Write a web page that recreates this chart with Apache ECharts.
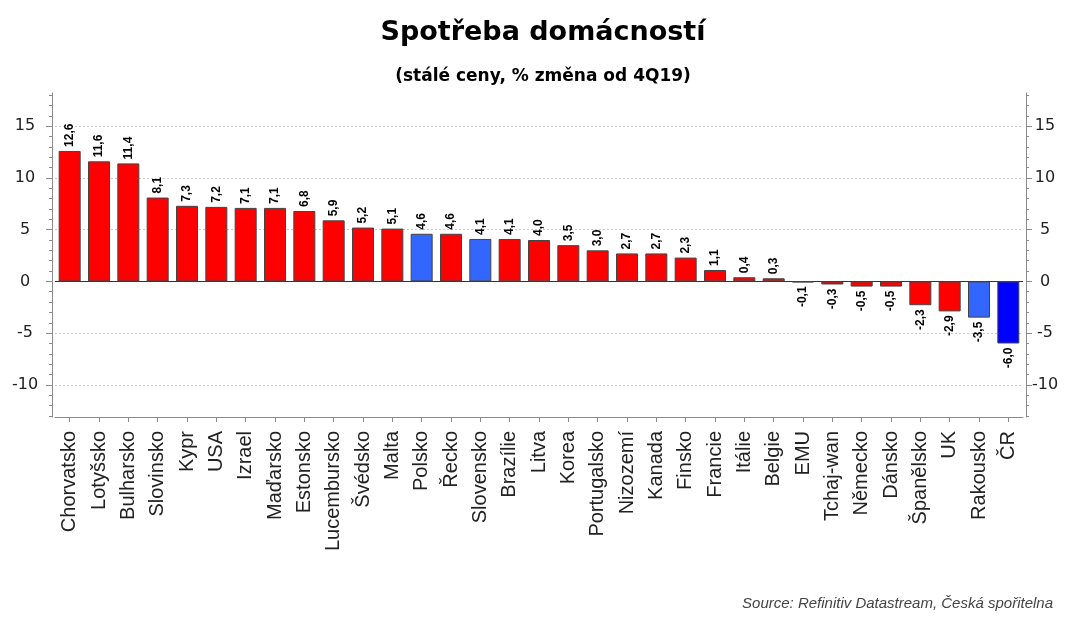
<!DOCTYPE html>
<html>
<head>
<meta charset="utf-8">
<script src="https://cdn.jsdelivr.net/npm/echarts@6/dist/echarts.min.js"></script>
<style>
html,body{margin:0;padding:0;background:#fff;}
#chart{width:1086px;height:618px;}
</style>
</head>
<body>
<div id="chart"></div>
<script>
const categories = ['Chorvatsko','Lotyšsko','Bulharsko','Slovinsko','Kypr','USA','Izrael','Maďarsko','Estonsko','Lucembursko','Švédsko','Malta','Polsko','Řecko','Slovensko','Brazílie','Litva','Korea','Portugalsko','Nizozemí','Kanada','Finsko','Francie','Itálie','Belgie','EMU','Tchaj-wan','Německo','Dánsko','Španělsko','UK','Rakousko','ČR'];
const values = [12.6,11.6,11.4,8.1,7.3,7.2,7.1,7.1,6.8,5.9,5.2,5.1,4.6,4.6,4.1,4.1,4.0,3.5,3.0,2.7,2.7,2.3,1.1,0.4,0.3,-0.1,-0.3,-0.5,-0.5,-2.3,-2.9,-3.5,-6.0];
const lightBlueCountries = ['Polsko','Slovensko','Rakousko'];
const darkBlueCountries = ['ČR'];
const yTickLabels = [-10,-5,0,5,10,15];
const yMin = -13.1, yMax = 18.2;
const titleText = 'Spotřeba domácností';
const subtitleText = '(stálé ceny, % změna od 4Q19)';
const sourceText = 'Source: Refinitiv Datastream, Česká spořitelna';

const minorTicks = [];
for (let v = Math.ceil(yMin); v <= Math.floor(yMax); v++) minorTicks.push(v);

const axisGray = '#8a8a8a';
const hFont = 'DejaVu Sans';
const vFont = 'Liberation Sans';

function colorFor(c){
  if (darkBlueCountries.includes(c)) return '#0000FF';
  if (lightBlueCountries.includes(c)) return '#3366FF';
  return '#FF0000';
}

const barData = categories.map((c,i)=>{
  const v = values[i];
  const pos = v >= 0;
  return {
    value: v,
    itemStyle: {color: colorFor(c)},
    label: {
      position: pos ? 'top' : 'bottom',
      align: pos ? 'left' : 'right',
      verticalAlign: 'middle'
    }
  };
});

function mainY(pos){
  return {
    type:'value', position:pos, min:yMin, max:yMax, offset:3,
    axisLine:{show:true, lineStyle:{color:axisGray, width:1}},
    axisTick:{show:true, customValues:yTickLabels, length:6, lineStyle:{color:axisGray}},
    axisLabel:{show:true, customValues:yTickLabels, align:'center', margin: pos==='left'?27:19,
      fontFamily:hFont, fontSize:16, color:'#222'},
    splitLine:{show:false}
  };
}
function minorY(pos){
  return {
    type:'value', position:pos, min:yMin, max:yMax, offset:3,
    axisLine:{show:false},
    axisTick:{show:true, customValues:minorTicks, length:3, lineStyle:{color:axisGray}},
    axisLabel:{show:false},
    splitLine:{show:false}
  };
}

const chart = echarts.init(document.getElementById('chart'), null, {renderer:'canvas'});
chart.setOption({
  animation:false,
  backgroundColor:'#fff',
  title:[
    {text:titleText, left:'center', top:14, textStyle:{fontFamily:hFont, fontSize:27, fontWeight:'bold', color:'#000'}},
    {text:subtitleText, left:'center', top:63, textStyle:{fontFamily:hFont, fontSize:17, fontWeight:'bold', color:'#000'}},
    {text:sourceText, right:28, top:591, textStyle:{fontFamily:vFont, fontSize:15, fontStyle:'italic', fontWeight:'normal', color:'#444'}}
  ],
  grid:{left:55, right:63, top:93, bottom:201, containLabel:false},
  xAxis:{
    type:'category', data:categories, position:'bottom',
    axisLine:{show:true, onZero:false, lineStyle:{color:axisGray, width:1}},
    axisTick:{show:true, alignWithLabel:true, length:5, lineStyle:{color:axisGray}},
    axisLabel:{rotate:90, interval:0, margin:14, fontFamily:vFont, fontSize:20, color:'#222'},
    splitLine:{show:false}
  },
  yAxis:[mainY('left'), minorY('left'), mainY('right'), minorY('right')],
  series:[{
    type:'bar', yAxisIndex:0, data:barData, barWidth:22,
    itemStyle:{borderColor:'#444', borderWidth:1},
    label:{show:true, rotate:90, distance:4, fontFamily:vFont, fontSize:12, fontWeight:'bold', color:'#000',
      formatter:p=>p.value.toFixed(1).replace('.',',')},
    markLine:{
      silent:true, symbol:'none', z:1, label:{show:false},
      data: yTickLabels.map(v=>({
        yAxis:v,
        lineStyle: v===0 ? {color:'#333', type:'solid', width:1} : {color:'#c8c8c8', type:[2,2], width:1}
      }))
    }
  }]
});
</script>
</body>
</html>
